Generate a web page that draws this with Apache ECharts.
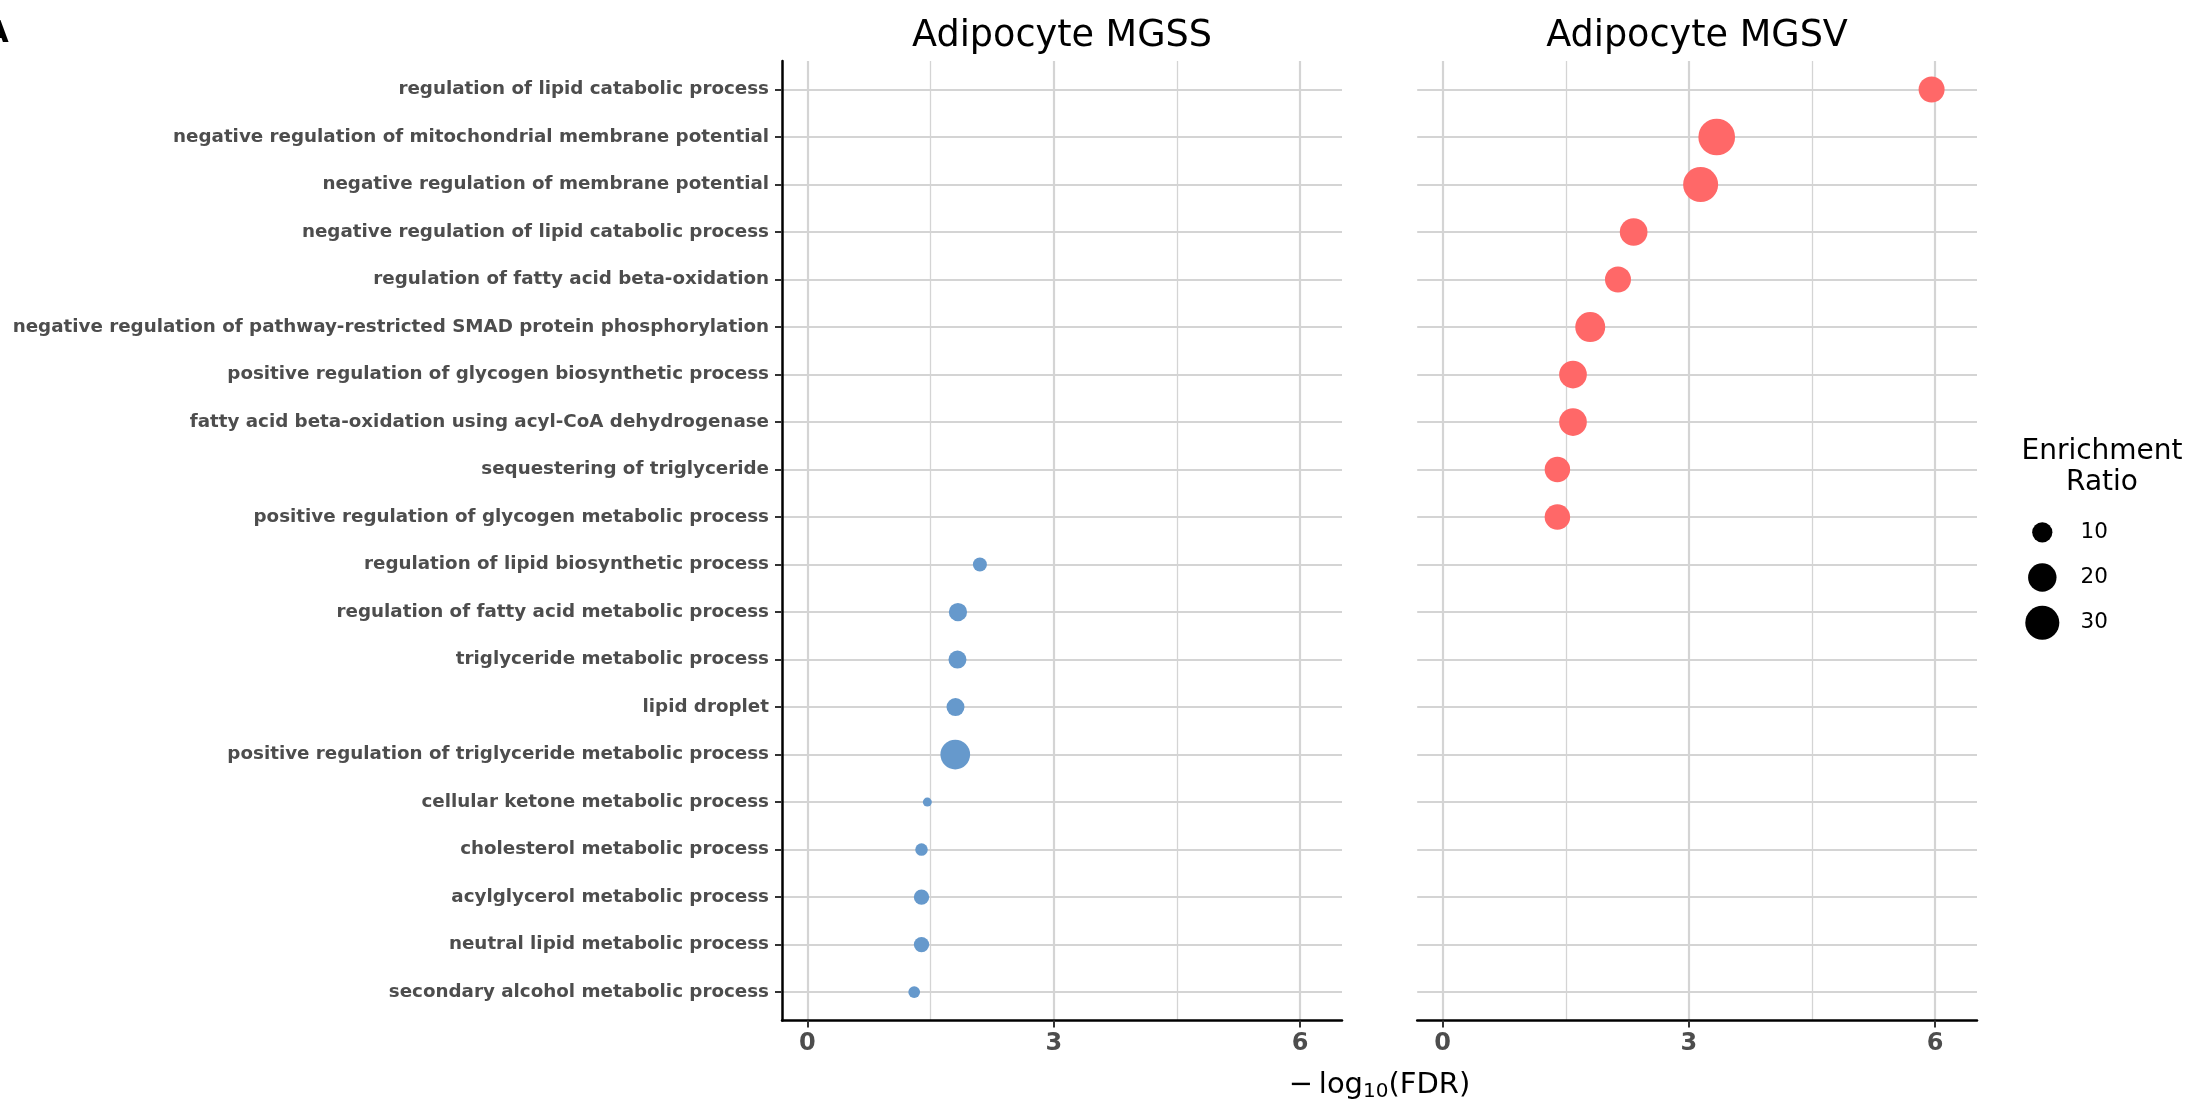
<!DOCTYPE html>
<html>
<head>
<meta charset="utf-8">
<title>Adipocyte enrichment dot plot</title>
<script src="https://cdn.jsdelivr.net/npm/echarts@6/dist/echarts.min.js"></script>
<style>
  html, body { margin: 0; padding: 0; background: #ffffff; }
  #chart { width: 2194px; height: 1104px; }
</style>
</head>
<body>
<div id="chart"></div>
<script>
// GO terms, listed top to bottom
const categories = [
  'regulation of lipid catabolic process',
  'negative regulation of mitochondrial membrane potential',
  'negative regulation of membrane potential',
  'negative regulation of lipid catabolic process',
  'regulation of fatty acid beta-oxidation',
  'negative regulation of pathway-restricted SMAD protein phosphorylation',
  'positive regulation of glycogen biosynthetic process',
  'fatty acid beta-oxidation using acyl-CoA dehydrogenase',
  'sequestering of triglyceride',
  'positive regulation of glycogen metabolic process',
  'regulation of lipid biosynthetic process',
  'regulation of fatty acid metabolic process',
  'triglyceride metabolic process',
  'lipid droplet',
  'positive regulation of triglyceride metabolic process',
  'cellular ketone metabolic process',
  'cholesterol metabolic process',
  'acylglycerol metabolic process',
  'neutral lipid metabolic process',
  'secondary alcohol metabolic process'
];

const panelTitles = ['Adipocyte MGSS', 'Adipocyte MGSV'];

// -log10(FDR) per term (null = term not enriched in that set)
const mgssFdr = [null, null, null, null, null, null, null, null, null, null,
  2.10, 1.833, 1.827, 1.803, 1.80, 1.46, 1.389, 1.389, 1.389, 1.30];
const mgssRatio = [null, null, null, null, null, null, null, null, null, null,
  6.0, 8.4, 8.2, 8.2, 22.0, 5.0, 5.5, 6.6, 6.6, 5.3];

const mgsvFdr = [5.957, 3.339, 3.143, 2.327, 2.136, 1.798, 1.588, 1.588, 1.398, 1.398,
  null, null, null, null, null, null, null, null, null, null];
const mgsvRatio = [16.5, 35.5, 31.9, 18.9, 16.5, 22.5, 18.9, 18.9, 15.8, 15.8,
  null, null, null, null, null, null, null, null, null, null];

const xTicks = [0, 3, 6];
const xMinorTicks = [1.5, 4.5];
const sizeBreaks = [10, 20, 30];

const FONT = 'DejaVu Sans';
const GRID_COLOR = '#D4D4D4';
const TEXT_GREY = '#4D4D4D';

// area-style size scale: diameter grows with sqrt of the rescaled ratio
const RATIO_MIN = 5.0, RATIO_MAX = 35.5;
function sizeOf(ratio) {
  const r = Math.max(0, Math.min(1, (ratio - RATIO_MIN) / (RATIO_MAX - RATIO_MIN)));
  return 9 + 27.7 * Math.sqrt(r);
}

function toPoints(fdr, ratio) {
  const pts = [];
  categories.forEach((c, i) => {
    if (fdr[i] != null) pts.push([fdr[i], i, ratio[i]]);
  });
  return pts;
}

const rowIdx = categories.map((_, i) => i);

const chart = echarts.init(document.getElementById('chart'), null, { renderer: 'canvas' });

const plotTop = 61, plotBottom = 1104 - 1020.6;
const grids = [
  { left: 782, top: plotTop, width: 560, bottom: plotBottom },
  { left: 1417.2, top: plotTop, width: 559.8, bottom: plotBottom },
  { left: 2030, top: 509.7, width: 24.6, height: 135.6 }
];

function majorX(gridIndex) {
  return {
    type: 'value', gridIndex, min: -0.31, max: 6.51, position: 'bottom',
    axisLine: { show: true, onZero: false, lineStyle: { color: '#000', width: 2.5 } },
    axisTick: { show: true, customValues: xTicks, length: 7, lineStyle: { color: '#333', width: 2 } },
    axisLabel: { show: true, customValues: xTicks, margin: 11, fontFamily: FONT, fontWeight: 'bold', fontSize: 24, color: TEXT_GREY },
    splitLine: { show: true, lineStyle: { color: GRID_COLOR, width: 2.2 } }
  };
}
function minorX(gridIndex) {
  return {
    type: 'value', gridIndex, min: -0.31, max: 6.51, position: 'top',
    axisLine: { show: false, onZero: false },
    axisTick: { show: false, customValues: xMinorTicks },
    axisLabel: { show: false, customValues: xMinorTicks },
    splitLine: { show: true, lineStyle: { color: GRID_COLOR, width: 1.3 } }
  };
}
function termY(gridIndex, withLabels) {
  return {
    type: 'value', gridIndex, inverse: true, min: -0.6, max: 19.6,
    axisLine: { show: withLabels, onZero: false, lineStyle: { color: '#000', width: 2.5 } },
    axisTick: { show: withLabels, customValues: rowIdx, length: 7, lineStyle: { color: '#333', width: 2 } },
    axisLabel: {
      show: withLabels, customValues: rowIdx, margin: 13,
      fontFamily: FONT, fontWeight: 'bold', fontSize: 18.3, color: TEXT_GREY,
      formatter: v => categories[Math.round(v)]
    },
    splitLine: { show: true, lineStyle: { color: GRID_COLOR, width: 2.2 } }
  };
}

const option = {
  backgroundColor: '#ffffff',
  animation: false,
  grid: grids,
  xAxis: [
    majorX(0), minorX(0), majorX(1), minorX(1),
    { type: 'value', gridIndex: 2, min: 0, max: 1, show: false }
  ],
  yAxis: [
    termY(0, true), termY(1, false),
    {
      type: 'category', gridIndex: 2, position: 'right', inverse: true, data: sizeBreaks.map(String),
      axisLine: { show: false }, axisTick: { show: false }, splitLine: { show: false },
      axisLabel: { margin: 26, fontFamily: FONT, fontSize: 21.5, color: '#000', align: 'left' }
    }
  ],
  series: [
    {
      name: panelTitles[0], type: 'scatter', xAxisIndex: 0, yAxisIndex: 0,
      data: toPoints(mgssFdr, mgssRatio), symbol: 'circle',
      symbolSize: d => sizeOf(d[2]),
      itemStyle: { color: '#6699CC', opacity: 1 }
    },
    {
      name: panelTitles[1], type: 'scatter', xAxisIndex: 2, yAxisIndex: 1,
      data: toPoints(mgsvFdr, mgsvRatio), symbol: 'circle',
      symbolSize: d => sizeOf(d[2]),
      itemStyle: { color: '#FF6868', opacity: 1 }
    },
    {
      name: 'Enrichment Ratio', type: 'scatter', xAxisIndex: 4, yAxisIndex: 2,
      data: sizeBreaks.map(b => [0.5, String(b), b]), symbol: 'circle',
      symbolSize: d => sizeOf(d[2]),
      itemStyle: { color: '#000000', opacity: 1 }
    }
  ],
  graphic: [
    { type: 'text', x: 1062, y: 36, style: { text: panelTitles[0], fontFamily: FONT, fontSize: 36.6, fill: '#000', align: 'center', verticalAlign: 'middle' } },
    { type: 'text', x: 1697, y: 36, style: { text: panelTitles[1], fontFamily: FONT, fontSize: 36.6, fill: '#000', align: 'center', verticalAlign: 'middle' } },
    {
      type: 'text', x: 1379.5, y: 1085,
      style: {
        text: '\u2212\u2009log{sub|10}(FDR)', fontFamily: FONT, fontSize: 29, fill: '#000',
        align: 'center', verticalAlign: 'middle',
        rich: { sub: { fontFamily: FONT, fontSize: 20, fill: '#000', padding: [14, 0, 0, 0] } }
      }
    },
    { type: 'text', x: 2102, y: 467.5, style: { text: 'Enrichment\nRatio', fontFamily: FONT, fontSize: 28, lineHeight: 31, fill: '#000', align: 'center', verticalAlign: 'middle' } },
    { type: 'text', x: -3, y: 34, style: { text: 'A', fontFamily: FONT, fontWeight: 'bold', fontSize: 30, fill: '#000', align: 'center', verticalAlign: 'middle' } }
  ]
};

chart.setOption(option);
</script>
</body>
</html>
